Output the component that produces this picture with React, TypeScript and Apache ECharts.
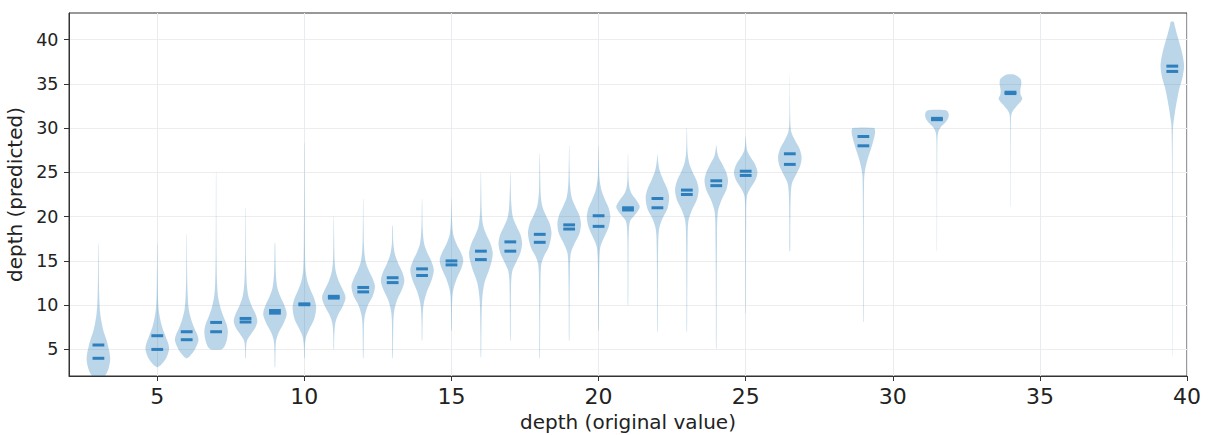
import React, { useEffect, useRef } from "react";
import * as echarts from "echarts";

// x positions of the violins (original depth value)
const positions = [3, 5, 6, 7, 8, 9, 10, 11, 12, 13, 14, 15, 16, 17, 18, 19, 20, 21, 22, 23, 24, 25, 26.5, 29, 31.5, 34, 39.5];

// mean and median of predicted depth per violin
const means = [5.5, 6.55, 7.0, 8.05, 8.5, 9.4, 10.15, 11.0, 11.5, 12.55, 13.35, 14.55, 15.15, 16.1, 17.1, 18.6, 18.9, 20.75, 21.0, 22.5, 23.5, 24.65, 25.9, 28.0, 30.95, 33.9, 36.4];
const medians = [4.0, 5.0, 6.1, 7.0, 8.1, 9.1, 10.05, 10.8, 12.0, 13.1, 14.1, 15.0, 16.1, 17.15, 18.0, 19.07, 20.1, 21.0, 22.05, 23.0, 24.05, 25.13, 27.1, 29.05, 31.1, 34.05, 37.0];

// density profile of each violin: [predicted depth, relative half width]
const profiles: number[][][] = [
  [[1.4, 0.1], [2.0, 0.55], [2.8, 0.85], [3.8, 1.0], [4.6, 0.95], [5.4, 0.82], [6.1, 0.68], [7.0, 0.45], [8.0, 0.28], [9.0, 0.16], [10.5, 0.08], [13, 0.04], [15.5, 0.025], [17.0, 0.01]],
  [[3.0, 0.04], [3.3, 0.35], [4.0, 0.75], [5.0, 1.0], [5.6, 0.95], [6.5, 0.7], [7.5, 0.42], [8.5, 0.24], [9.5, 0.12], [11, 0.06], [14, 0.03], [17, 0.01]],
  [[4.0, 0.04], [4.3, 0.3], [5.0, 0.7], [6.0, 1.0], [6.6, 0.92], [7.5, 0.62], [8.5, 0.36], [9.5, 0.18], [11, 0.09], [13, 0.045], [15.5, 0.025], [18, 0.01]],
  [[5.0, 0.45], [5.3, 0.7], [6.0, 0.9], [7.0, 1.0], [7.8, 0.9], [8.8, 0.6], [9.8, 0.35], [11, 0.16], [12.5, 0.08], [15, 0.04], [20, 0.02], [25, 0.01]],
  [[4.0, 0.02], [5.0, 0.04], [6.0, 0.13], [6.8, 0.5], [7.5, 0.85], [8.2, 1.0], [9.0, 0.85], [10.0, 0.5], [11, 0.24], [12.5, 0.1], [15, 0.04], [18, 0.025], [21, 0.01]],
  [[3.0, 0.02], [4.5, 0.04], [6.0, 0.1], [7.0, 0.35], [8.0, 0.75], [9.0, 1.0], [10.0, 0.8], [11.0, 0.45], [12, 0.2], [13.5, 0.08], [15.5, 0.04], [17, 0.02]],
  [[4.0, 0.02], [5.5, 0.05], [6.5, 0.16], [7.5, 0.5], [8.5, 0.85], [9.8, 1.0], [10.8, 0.82], [11.8, 0.5], [12.8, 0.24], [14, 0.1], [17, 0.045], [22, 0.025], [28.3, 0.01]],
  [[5.0, 0.02], [6.5, 0.04], [8.0, 0.13], [9.0, 0.4], [10.0, 0.8], [10.9, 1.0], [11.8, 0.75], [12.8, 0.4], [13.8, 0.17], [15, 0.07], [17.5, 0.03], [20, 0.01]],
  [[4.0, 0.02], [6, 0.04], [8.5, 0.1], [10, 0.4], [11, 0.8], [12.1, 1.0], [13, 0.8], [14, 0.45], [15, 0.19], [16.5, 0.07], [19, 0.03], [22, 0.01]],
  [[4.0, 0.02], [6, 0.04], [9, 0.1], [10.5, 0.35], [11.8, 0.8], [12.8, 1.0], [13.8, 0.8], [14.8, 0.45], [15.8, 0.19], [17, 0.06], [19, 0.02]],
  [[6.0, 0.02], [8, 0.04], [10, 0.12], [11.5, 0.4], [12.8, 0.8], [13.95, 1.0], [15, 0.78], [16, 0.42], [17, 0.17], [18.5, 0.06], [20, 0.03], [22, 0.01]],
  [[7.1, 0.02], [9.5, 0.04], [11.5, 0.12], [13, 0.45], [14.2, 0.85], [15.1, 1.0], [16, 0.78], [17, 0.4], [18, 0.15], [19.5, 0.05], [22, 0.01]],
  [[4.1, 0.02], [7, 0.04], [10.5, 0.1], [12.5, 0.3], [14, 0.7], [15.2, 0.95], [16.0, 1.0], [17, 0.8], [18, 0.45], [19, 0.19], [20.5, 0.07], [23, 0.03], [25, 0.01]],
  [[6.0, 0.02], [9, 0.035], [12, 0.06], [13.2, 0.1], [14.0, 0.2], [15.0, 0.55], [16.0, 0.88], [17.05, 1.0], [18.0, 0.85], [19.0, 0.5], [20.0, 0.21], [21.5, 0.08], [23.5, 0.03], [25, 0.01]],
  [[4.0, 0.02], [8, 0.035], [12, 0.06], [14.5, 0.12], [15.5, 0.35], [16.5, 0.75], [18.1, 1.0], [19.2, 0.85], [20.2, 0.5], [21.2, 0.21], [22.5, 0.08], [24.5, 0.04], [27.1, 0.01]],
  [[6.0, 0.02], [10, 0.035], [13.5, 0.06], [15.8, 0.13], [16.8, 0.4], [18, 0.85], [19.15, 1.0], [20.2, 0.85], [21.2, 0.5], [22.2, 0.21], [23.5, 0.08], [25.5, 0.035], [28, 0.01]],
  [[7.1, 0.02], [11, 0.035], [14.5, 0.06], [16.5, 0.14], [17.5, 0.42], [18.8, 0.85], [20.0, 1.0], [21.0, 0.85], [22.0, 0.52], [23.0, 0.24], [24.3, 0.08], [26, 0.035], [28, 0.01]],
  [[10.0, 0.02], [14, 0.035], [18, 0.06], [19.5, 0.18], [20.3, 0.65], [21.1, 1.0], [21.8, 0.75], [22.5, 0.35], [23.3, 0.12], [24.5, 0.04], [27, 0.01]],
  [[7.0, 0.02], [12, 0.035], [16.5, 0.06], [18.5, 0.13], [19.7, 0.4], [20.9, 0.85], [22.2, 1.0], [23.2, 0.82], [24.2, 0.48], [25.2, 0.19], [26.2, 0.06], [27, 0.01]],
  [[7.0, 0.02], [12, 0.035], [17, 0.06], [19.5, 0.13], [20.7, 0.42], [21.9, 0.85], [23.05, 1.0], [24.1, 0.82], [25.1, 0.47], [26.1, 0.19], [27.3, 0.06], [30, 0.01]],
  [[5.1, 0.02], [11, 0.035], [17, 0.06], [20.5, 0.13], [21.8, 0.42], [23, 0.85], [24.1, 1.0], [25.1, 0.82], [26.1, 0.45], [26.8, 0.17], [27.5, 0.06], [28.05, 0.01]],
  [[9.1, 0.015], [14, 0.025], [19, 0.04], [22.3, 0.1], [23.2, 0.4], [24.2, 0.85], [25.05, 1.0], [25.9, 0.8], [26.7, 0.42], [27.4, 0.14], [28.2, 0.05], [29.05, 0.01]],
  [[16.1, 0.03], [19, 0.04], [22.5, 0.08], [23.8, 0.19], [24.8, 0.55], [25.8, 0.9], [26.75, 1.0], [27.7, 0.82], [28.6, 0.45], [29.5, 0.14], [30.5, 0.05], [33, 0.02], [36, 0.005]],
  [[8.1, 0.02], [14, 0.025], [20, 0.035], [23.5, 0.055], [24.9, 0.1], [26.4, 0.34], [27.9, 0.7], [29.0, 0.93], [29.7, 1.0], [30.0, 0.9]],
  [[16.1, 0.01], [21, 0.015], [26, 0.025], [28.5, 0.04], [29.5, 0.1], [30.1, 0.32], [30.6, 0.7], [31.1, 0.95], [31.6, 1.0], [31.95, 0.85], [32.05, 0.6]],
  [[21.1, 0.01], [25, 0.015], [29, 0.025], [31.2, 0.05], [31.8, 0.14], [32.6, 0.6], [33.3, 1.0], [33.8, 0.86], [34.3, 0.84], [35.0, 0.92], [35.5, 0.88], [35.85, 0.6], [36.05, 0.3]],
  [[4.2, 0.01], [12, 0.015], [20, 0.02], [27, 0.03], [30.0, 0.06], [30.6, 0.1], [32.4, 0.3], [34.3, 0.57], [35.8, 0.88], [37.0, 1.0], [38.2, 0.88], [39.2, 0.7], [40.5, 0.42], [41.6, 0.2], [42.0, 0.12]],
];

const xTicks = [5, 10, 15, 20, 25, 30, 35, 40];
const yTicks = [5, 10, 15, 20, 25, 30, 35, 40];

const HALF_WIDTH = 0.4;
const STAT_HALF = 0.2;
const FONT = "DejaVu Sans";

export default function App() {
  const ref = useRef<HTMLDivElement>(null);
  useEffect(() => {
    if (!ref.current) return;
    const chart = echarts.init(ref.current, undefined, { renderer: "svg" });
    const axisColor = "#333333";
    chart.setOption({
      animation: false,
      backgroundColor: "#ffffff",
      grid: {
        left: 69,
        top: 13,
        right: 21,
        bottom: 59,
        show: true,
        borderColor: axisColor,
        borderWidth: 1,
        backgroundColor: "transparent",
        outerBoundsMode: "none",
        containLabel: false,
      },
      xAxis: {
        type: "value",
        min: 2,
        max: 40,
        name: "depth (original value)",
        nameLocation: "middle",
        nameGap: 36,
        nameTextStyle: { fontSize: 20, fontFamily: FONT, color: "#222" },
        axisLine: { show: true, lineStyle: { color: axisColor, width: 1 } },
        axisTick: { show: true, length: 5, customValues: xTicks, lineStyle: { color: axisColor } },
        axisLabel: { customValues: xTicks, fontSize: 22, fontFamily: FONT, color: "#222", margin: 9 },
        splitLine: { show: true, lineStyle: { color: "#e8ecf0", width: 1 } },
      },
      yAxis: {
        type: "value",
        min: 2,
        max: 43,
        name: "depth (predicted)",
        nameLocation: "middle",
        nameGap: 44,
        nameTextStyle: { fontSize: 20, fontFamily: FONT, color: "#222" },
        axisLine: { show: true, lineStyle: { color: axisColor, width: 1 } },
        axisTick: { show: true, length: 5, customValues: yTicks, lineStyle: { color: axisColor } },
        axisLabel: { customValues: yTicks, fontSize: 17.5, fontFamily: FONT, color: "#222", margin: 10.5 },
        splitLine: { show: true, lineStyle: { color: "#ededed", width: 1 } },
      },
      series: [
        {
          type: "custom",
          clip: true,
          data: positions.map((p, i) => [p, medians[i]]),
          encode: { x: 0, y: 1 },
          renderItem: (params: any, api: any) => {
            const i = params.dataIndex;
            const x = positions[i];
            const prof = profiles[i];
            const right = prof.map(([y, w]) => api.coord([x + w * HALF_WIDTH, y]));
            const left = prof
              .slice()
              .reverse()
              .map(([y, w]) => api.coord([x - w * HALF_WIDTH, y]));
            const pts = right.concat(left);
            const statLine = (v: number) => {
              const a = api.coord([x - STAT_HALF, v]);
              const b = api.coord([x + STAT_HALF, v]);
              return {
                type: "line",
                shape: { x1: a[0], y1: a[1], x2: b[0], y2: b[1] },
                style: { stroke: "#2e7fbd", lineWidth: 3 },
              };
            };
            return {
              type: "group",
              children: [
                {
                  type: "polygon",
                  shape: { points: pts, smooth: 0.3 },
                  style: { fill: "rgba(31,119,180,0.3)", stroke: "none" },
                },
                statLine(means[i]),
                statLine(medians[i]),
              ],
            };
          },
        },
      ],
    });
    return () => chart.dispose();
  }, []);
  return (
    <div
      ref={ref}
      style={{ position: "absolute", left: 0, top: 0, width: 1208, height: 435 }}
    />
  );
}
